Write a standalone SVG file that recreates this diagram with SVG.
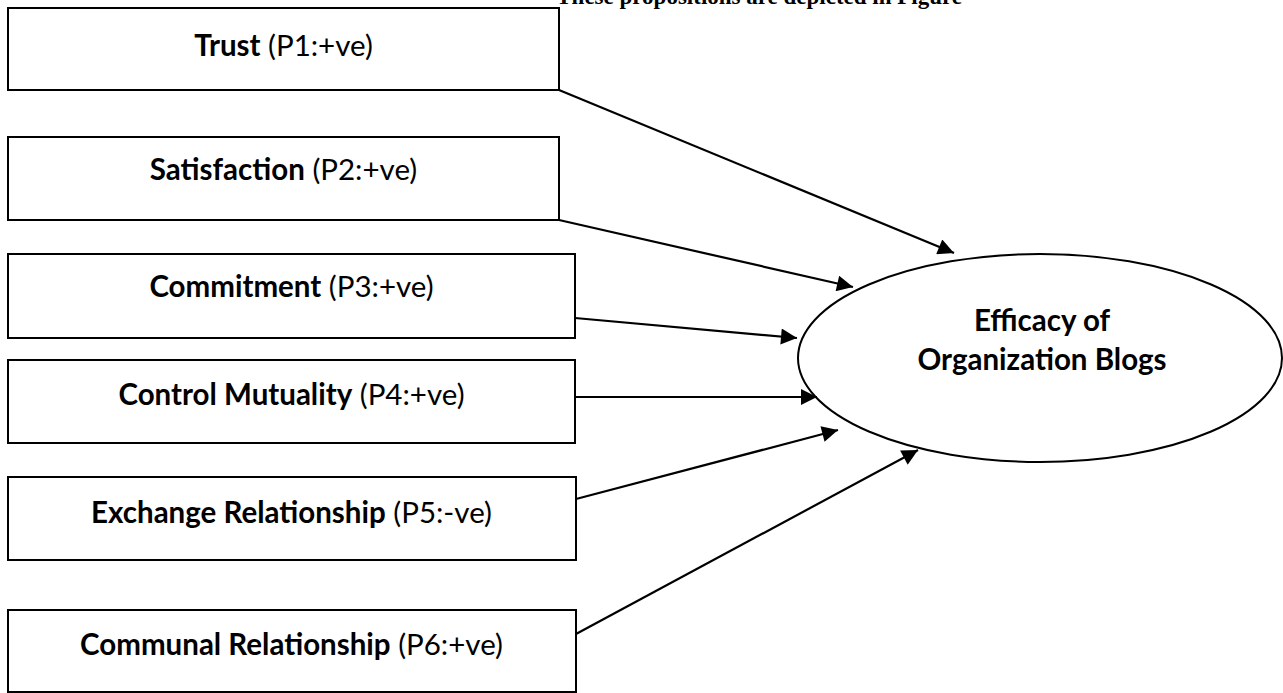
<svg xmlns="http://www.w3.org/2000/svg" width="1283" height="693" viewBox="0 0 1283 693">
<style>
.box{fill:#fff;stroke:#000;stroke-width:2}
.lbl{font-family:Lato,"Liberation Sans",sans-serif;font-size:29.5px;fill:#000;text-anchor:middle;dominant-baseline:central}
.b{font-weight:bold}
.conn{stroke:#000;stroke-width:2.2;fill:none;marker-end:url(#ah)}
.cap{font-family:"Liberation Serif",serif;font-weight:bold;font-size:23px;fill:#000;text-anchor:end}
</style>
<defs>
<marker id="ah" viewBox="0 0 10 10" refX="10" refY="5" markerUnits="userSpaceOnUse" markerWidth="20" markerHeight="16" orient="auto">
<path d="M0,0 L10,5 L0,10 z" fill="#000"/>
</marker>
</defs>
<text class="cap" x="962" y="4">These propositions are depicted in Figure</text>
<g id="trust"><rect class="box" x="8" y="8" width="551" height="82"/><text class="lbl" x="283.5" y="44"><tspan class="b">Trust</tspan> (P1:+ve)</text></g>
<g id="satisfaction"><rect class="box" x="8" y="137" width="551" height="83"/><text class="lbl" x="283.5" y="168"><tspan class="b">Satisfaction</tspan> (P2:+ve)</text></g>
<g id="commitment"><rect class="box" x="8" y="254" width="567" height="84"/><text class="lbl" x="291.5" y="285"><tspan class="b">Commitment</tspan> (P3:+ve)</text></g>
<g id="control"><rect class="box" x="8" y="360" width="567" height="83"/><text class="lbl" x="291.5" y="393"><tspan class="b">Control Mutuality</tspan> (P4:+ve)</text></g>
<g id="exchange"><rect class="box" x="8" y="477" width="568" height="83"/><text class="lbl" x="291.5" y="511"><tspan class="b">Exchange Relationship</tspan> (P5:-ve)</text></g>
<g id="communal"><rect class="box" x="8" y="610" width="568" height="82"/><text class="lbl" x="291.5" y="643"><tspan class="b">Communal Relationship</tspan> (P6:+ve)</text></g>
<g id="efficacy"><ellipse class="box" cx="1040" cy="358" rx="242" ry="104"/><text class="lbl b" x="1042" y="319">Efficacy of</text><text class="lbl b" x="1042" y="358">Organization Blogs</text></g>
<g id="connectors">
<line class="conn" x1="559" y1="90" x2="954" y2="253"/>
<line class="conn" x1="559" y1="220" x2="853" y2="287"/>
<line class="conn" x1="575" y1="318" x2="797" y2="338"/>
<line class="conn" x1="575" y1="397" x2="817" y2="397"/>
<line class="conn" x1="576" y1="499" x2="838" y2="430"/>
<line class="conn" x1="576" y1="634" x2="918" y2="450"/>
</g>
</svg>
